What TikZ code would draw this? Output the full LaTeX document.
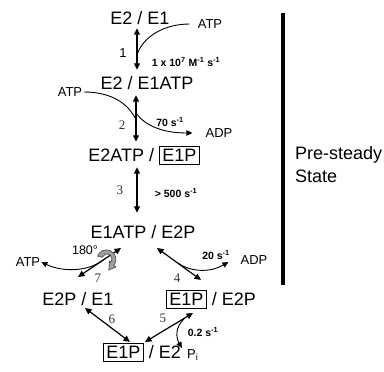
\documentclass[tikz,border=0pt]{standalone}
\usepackage{fontspec}
\setmainfont{Liberation Sans}
\newfontfamily\numfont{Liberation Serif}
\usetikzlibrary{arrows.meta}
\setlength{\fboxsep}{2.5pt}
\setlength{\fboxrule}{0.8pt}
\begin{document}
\begin{tikzpicture}[x=1pt,y=1pt,
  state/.style={inner sep=0pt, text height=13pt, text depth=0pt, font=\fontsize{18}{21}\selectfont},
  rate/.style={inner sep=0pt, font=\bfseries\fontsize{10.5}{12}\selectfont},
  small/.style={inner sep=0pt, font=\fontsize{13}{15}\selectfont},
  num/.style={inner sep=0pt, font=\numfont\fontsize{13}{15}\selectfont, text=black!80},
  rx/.style={line width=1.4pt, {Triangle[length=6.5pt,width=6pt]}-{Triangle[length=6.5pt,width=6pt]}},
  side/.style={line width=0.9pt},
  sidearr/.style={line width=0.9pt, -{Triangle[length=6pt,width=5.5pt]}}
]
\useasboundingbox (0,0) rectangle (384,372);

% states
\node[state] (A) at (140,354) {E2 / E1};
\node[state] (B) at (147,289) {E2 / E1ATP};
\node[state] (C) at (144,217) {E2ATP / \fbox{E1P}};
\node[state] (D) at (143,140) {E1ATP / E2P};
\node[state] (E) at (78,73) {E2P / E1};
\node[state] (F) at (211,73) {\fbox{E1P} / E2P};
\node[state] (G) at (142,20) {\fbox{E1P} / E2};

% step 1
\draw[rx] ([xshift=-3pt,yshift=-3.5pt]A.south) -- ([xshift=-10pt,yshift=6.5pt]B.north);
\coordinate (c1) at (137,317);
\node[small] (atp1) at (210,348) {ATP};
\draw[side] (c1) .. controls (143,336) and (165,348) .. ([xshift=-8pt]atp1.west);
\node[rate] (r1) at (186,310) {1 x 10\textsuperscript{7} M\textsuperscript{-1} s\textsuperscript{-1}};
\node[small] (l1) at (123,319) {1};

% step 2
\draw[rx] ([xshift=-11pt,yshift=-5.5pt]B.south) -- ([xshift=-8pt,yshift=6.5pt]C.north);
\node[small] (atp2) at (70,280) {ATP};
\coordinate (c2a) at (135,254);
\draw[side] ([xshift=1.5pt]atp2.east) .. controls (112,280) and (128,268) .. (c2a);
\coordinate (c2b) at (136,259);
\node[small] (adp2) at (219,239) {ADP};
\draw[sidearr] (c2b) .. controls (146,245) and (165,239) .. ([xshift=-13pt]adp2.west);
\node[rate] (r2) at (170,250) {70 s\textsuperscript{-1}};
\node[num] (l2) at (122,247) {2};

% step 3
\draw[rx] ([xshift=-7pt,yshift=-5.5pt]C.south) -- ([xshift=-6pt,yshift=12.5pt]D.north);
\node[num] (l3) at (120,182) {3};
\node[rate] (r3) at (176,179) {> 500 s\textsuperscript{-1}};

% bar and label
\coordinate (bt) at (282.5,359);
\coordinate (bb) at (282.5,87);
\draw[line width=4pt] (bt) -- (bb);
\node[anchor=west, align=left, inner sep=0pt, font=\fontsize{18}{23}\selectfont] (pss) at (295,207.5) {Pre-steady\\State};

% step 7
\coordinate (s7a) at (121,124);
\coordinate (s7b) at (78,95);
\draw[rx, line width=1.2pt] (s7a) -- (s7b);
\node[small, font=\fontsize{12.5}{15}\selectfont] (deg) at (85,122) {180°};
\node[small] (atp3) at (28,110) {ATP};
\coordinate (c7) at (103,112);
\draw[sidearr] (c7) .. controls (88,100) and (62,100) .. ([xshift=1pt]atp3.east);
\node[num] (l7) at (98,94) {7};
% rotation symbol
\fill[gray!75, draw=black!75, line width=0.6pt]
  (97.6,115.9) arc[start angle=160, end angle=-40, radius=9.5]
  -- (116,104.9) -- (108.8,102) -- (109.6,111)
  -- (110.8,109.8) arc[start angle=-40, end angle=160, radius=5] -- cycle;

% step 4
\coordinate (s4a) at (157,124);
\coordinate (s4b) at (201,92);
\draw[rx, line width=1.2pt] (s4a) -- (s4b);
\coordinate (c4) at (178,109);
\node[small] (adp4) at (254,112) {ADP};
\draw[sidearr] (c4) .. controls (192,99) and (212,100) .. ([xshift=-12pt,yshift=-2pt]adp4.west);
\node[rate] (r4) at (216,117) {20 s\textsuperscript{-1}};
\node[num] (l4) at (177,94) {4};

% steps 5 and 6
\coordinate (s5a) at (193,59);
\coordinate (s5b) at (145,30);
\draw[rx, line width=1.2pt] (s5a) -- (s5b);
\coordinate (s6a) at (85,64);
\coordinate (s6b) at (130,30);
\draw[rx, line width=1.2pt] (s6a) -- (s6b);
\node[num] (l5) at (163,54) {5};
\node[num] (l6) at (112,53) {6};
\coordinate (c5) at (184,53);
\node[small, anchor=west] (pi) at (187,17) {P\textsubscript{i}};
\draw[sidearr] (c5) .. controls (175,45) and (176,34) .. (182,24);
\node[rate] (r5) at (203,40) {0.2 s\textsuperscript{-1}};
\end{tikzpicture}
\end{document}
